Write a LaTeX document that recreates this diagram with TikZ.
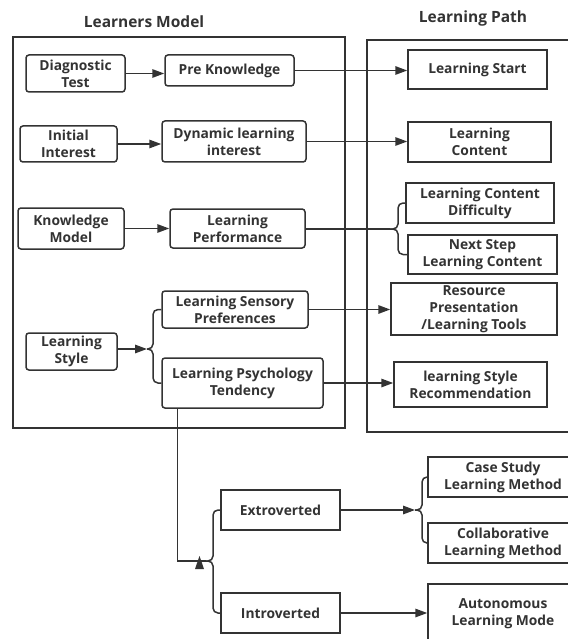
\documentclass[tikz,border=0pt]{standalone}
\usepackage{fontspec}
\setmainfont{Open Sans}
\usetikzlibrary{arrows.meta,calc}
\definecolor{ink}{HTML}{333333}
\tikzset{
  base/.style={draw=ink, line width=1.5pt, align=center, font=\bfseries\fontsize{13.8}{17}\selectfont, text=ink, inner sep=1pt},
  rbox/.style={base, rounded corners=3pt},
  sbox/.style={base},
  conn/.style={draw=ink, line width=1.5pt},
  arr/.style={conn, -{Triangle[length=12pt,width=8.5pt]}},
  brace/.style={conn, rounded corners=5pt},
  title/.style={font=\bfseries\fontsize{15.5}{18}\selectfont, text=ink}
}
\begin{document}
\begin{tikzpicture}[x=1pt,y=-1pt]
\useasboundingbox (0,0) rectangle (567,639);
% titles
\node[title] (t1) at (144,22) {Learners Model};
\node[title] (t2) at (473,18) {Learning Path};
% containers
\draw[conn] (13,37) rectangle (345,428);
\draw[conn] (575,40) -- (367,40) -- (367,432) -- (575,432);
% left nodes
\node[rbox, minimum width=99pt, minimum height=37pt] (diag) at (75.5,73.5) {Diagnostic\\Test};
\node[rbox, minimum width=129pt, minimum height=31pt] (pre) at (229.5,70.5) {Pre Knowledge};
\node[rbox, minimum width=97pt, minimum height=36pt] (init) at (68.5,144) {Initial\\Interest};
\node[rbox, minimum width=144pt, minimum height=41pt] (dyn) at (234,141.5) {Dynamic learning\\interest};
\node[rbox, minimum width=106pt, minimum height=41pt] (know) at (71,228.5) {Knowledge\\Model};
\node[rbox, minimum width=135pt, minimum height=39pt] (perf) at (237.5,228.5) {Learning\\Performance};
\node[rbox, minimum width=146pt, minimum height=37pt] (sens) at (235,309.5) {Learning Sensory\\Preferences};
\node[rbox, minimum width=91pt, minimum height=37pt] (style) at (71.5,351.5) {Learning\\Style};
\node[rbox, minimum width=161pt, minimum height=50pt] (psych) at (242.5,383) {Learning Psychology\\Tendency};
% right nodes
\node[sbox, minimum width=139pt, minimum height=39pt] (start) at (477.5,69.5) {Learning Start};
\node[sbox, minimum width=143pt, minimum height=40pt] (content) at (479.5,142) {Learning\\Content};
\node[sbox, minimum width=148pt, minimum height=40pt] (diff) at (480,203) {Learning Content\\Difficulty};
\node[sbox, minimum width=149pt, minimum height=39pt] (next) at (482.5,254.5) {Next Step\\Learning Content};
\node[sbox, minimum width=166pt, minimum height=52pt] (res) at (474,309) {Resource\\Presentation\\/Learning Tools};
\node[sbox, minimum width=153pt, minimum height=45pt] (rec) at (470.5,384.5) {learning Style\\Recommendation};
% bottom nodes
\node[sbox, minimum width=119pt, minimum height=40pt] (extro) at (280.5,510) {Extroverted};
\node[sbox, minimum width=119pt, minimum height=40pt] (intro) at (280.5,613) {Introverted};
\node[sbox, minimum width=150pt, minimum height=40pt] (case) at (503,477) {Case Study\\Learning Method};
\node[sbox, minimum width=150pt, minimum height=40pt] (collab) at (503,543) {Collaborative\\Learning Method};
\node[sbox, minimum width=150pt, minimum height=60pt] (auto) at (503,614) {Autonomous\\Learning Mode};
% straight arrows
\draw[arr] (diag.east) -- (diag.east -| pre.west);
\draw[arr] (init.east) -- (init.east -| dyn.west);
\draw[arr] (know.east) -- (know.east -| perf.west);
\draw[arr] (pre.east) -- (pre.east -| start.west);
\draw[arr] (dyn.east) -- (dyn.east -| content.west);
\draw[arr] (sens.east) -- (sens.east -| res.west);
\draw[arr] (psych.east) -- (psych.east -| rec.west);
\draw[arr] (intro.east) -- (intro.east -| auto.west);
% brace: performance
\coordinate (pt) at (390,229);
\draw[conn] (perf.east |- pt) -- (pt);
\draw[brace] (diff.west) -| (398,229) -- (pt);
\draw[brace] (pt) -- (398,229) |- (next.west);
% brace: learning style
\coordinate (st) at (147,349);
\draw[arr] (style.east |- st) -- (st);
\draw[brace] (sens.west) -| (153,349) -- (st);
\draw[brace] (st) -- (153,349) |- (psych.west);
% brace: extroverted
\coordinate (et) at (415,510);
\draw[arr] (extro.east) -- (et);
\draw[brace] (case.west) -| (422,510) -- (et);
\draw[brace] (et) -- (422,510) |- (collab.west);
% psychology down to extro/intro brace
\coordinate (pd) at ($(psych.south west)+(16,0)$);
\coordinate (pb) at (206,561);
\draw[conn] (pd) |- (pb);
\draw[brace] (extro.west) -| (213,561) -- (pb);
\draw[brace] (pb) -- (213,561) |- (intro.west);
\fill[ink] (199.5,556) -- (204,569) -- (195,569) -- cycle;
\end{tikzpicture}
\end{document}
